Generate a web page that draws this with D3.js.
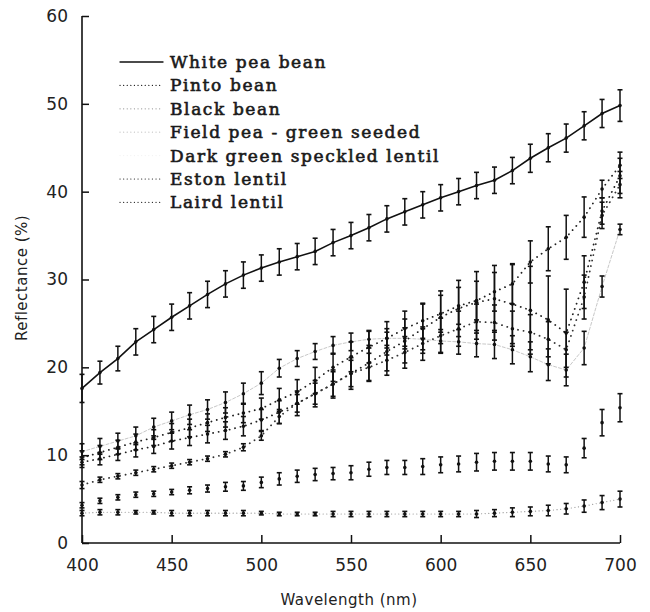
<!DOCTYPE html>
<html>
<head>
<meta charset="utf-8">
<script src="https://cdn.jsdelivr.net/npm/d3@7"></script>
<style>
  body { margin: 0; background: #fff; }
  svg { display: block; }
  .tick text { font-family: "DejaVu Sans", sans-serif; font-size: 17px; fill: #222; }
  .axis-title { font-family: "DejaVu Sans", sans-serif; font-size: 15px; fill: #222; letter-spacing: 0.5px; }
  .legend text { font-family: "DejaVu Serif", serif; font-size: 17px; fill: #1a1a1a; stroke: #1a1a1a; stroke-width: 0.6px; letter-spacing: 1.6px; }
</style>
</head>
<body>
<svg class="chart" width="650" height="612"></svg>
<script>
// wavelengths, nm
const wavelengths = d3.range(400, 701, 10);

const seriesNames = [
  'White pea bean',
  'Pinto bean',
  'Black bean',
  'Field pea - green seeded',
  'Dark green speckled lentil',
  'Eston lentil',
  'Laird lentil'
];

// reflectance means (%)
const whitePea = [17.6,19.4,21.0,22.9,24.3,25.7,27.0,28.3,29.5,30.5,31.3,32.0,32.6,33.2,34.2,35.0,35.9,36.9,37.7,38.5,39.3,40.0,40.7,41.3,42.4,43.8,45.0,46.1,47.5,48.9,49.8];
const pinto = [9.7,10.3,10.9,11.5,12.0,12.6,13.1,13.7,14.3,14.8,15.3,16.3,17.2,18.5,20.0,21.2,22.3,23.3,24.4,25.3,26.1,27.0,27.6,28.6,29.5,32.0,33.5,34.8,37.1,40.3,43.0];
const blackBean = [3.4,3.5,3.5,3.5,3.5,3.4,3.4,3.4,3.4,3.4,3.4,3.3,3.3,3.3,3.3,3.3,3.3,3.3,3.3,3.3,3.3,3.3,3.3,3.4,3.5,3.6,3.7,3.9,4.2,4.6,5.0];
const fieldPea = [10.4,11.0,11.6,12.2,13.2,13.9,14.6,15.2,16.0,17.0,18.2,19.9,21.0,21.8,22.5,22.9,23.2,23.3,23.3,23.2,23.0,22.9,22.7,22.6,22.0,21.2,20.3,19.7,22.2,29.2,35.7];
const darkGreen = [4.3,4.8,5.2,5.5,5.6,5.8,6.0,6.2,6.4,6.5,6.9,7.3,7.6,7.8,7.9,8.0,8.4,8.6,8.6,8.7,8.9,9.0,9.2,9.3,9.3,9.3,9.0,8.9,10.8,13.7,15.4];
const eston = [9.2,9.6,10.1,10.6,11.0,11.6,12.0,12.4,12.8,13.3,14.0,14.9,15.9,17.0,18.1,19.3,20.5,21.8,23.0,24.4,25.7,26.7,27.4,27.8,27.2,26.5,25.4,23.9,29.7,37.8,41.8];
const laird = [6.6,7.2,7.6,8.0,8.4,8.8,9.2,9.6,10.1,10.9,12.2,14.4,15.9,17.0,18.1,19.3,20.0,20.8,21.7,22.7,23.6,24.4,25.2,25.1,24.4,24.0,23.2,22.0,28.0,37.3,40.8];

// standard deviations (%)
const whitePeaErr = [1.6,1.3,1.4,1.5,1.5,1.5,1.5,1.5,1.5,1.5,1.5,1.5,1.5,1.5,1.5,1.5,1.5,1.5,1.5,1.5,1.5,1.5,1.5,1.5,1.5,1.6,1.6,1.6,1.6,1.6,1.8];
const pintoErr = [0.8,0.8,0.8,0.9,0.9,1.0,1.0,1.0,1.1,1.1,1.2,1.3,1.4,1.5,1.6,1.7,1.8,1.9,2.0,2.0,2.1,2.1,2.2,2.2,2.3,2.4,2.5,2.5,2.3,1.0,1.5];
const blackBeanErr = [0.3,0.3,0.3,0.2,0.2,0.3,0.3,0.3,0.3,0.3,0.2,0.2,0.2,0.2,0.3,0.3,0.3,0.3,0.3,0.3,0.3,0.3,0.4,0.4,0.5,0.5,0.6,0.6,0.7,0.8,0.9];
const fieldPeaErr = [0.9,0.9,0.9,1.0,1.0,1.0,1.1,1.1,1.2,1.2,1.3,1.0,0.9,0.9,1.0,1.0,1.0,1.1,1.2,1.2,1.3,1.4,1.5,1.6,1.6,1.7,1.8,1.8,1.9,1.2,0.6];
const darkGreenErr = [0.3,0.3,0.3,0.3,0.3,0.3,0.4,0.4,0.5,0.5,0.6,0.7,0.7,0.7,0.7,0.8,0.8,0.8,0.8,0.9,0.9,0.9,1.0,1.0,1.0,1.0,0.9,0.9,1.1,1.5,1.6];
const estonErr = [0.6,0.7,0.7,0.8,0.8,0.9,0.9,1.0,1.0,1.1,1.2,1.3,1.4,1.5,1.6,1.8,2.0,2.2,2.5,2.8,3.0,3.2,3.5,3.8,4.5,5.0,5.0,5.0,3.0,1.5,2.0];
const lairdErr = [0.4,0.3,0.3,0.3,0.3,0.3,0.3,0.3,0.3,0.4,0.5,0.8,1.0,1.2,1.4,1.5,1.6,1.7,1.8,1.9,2.0,2.0,2.0,2.0,2.0,2.0,2.0,2.0,2.5,1.5,1.5];

const yTicks = [0, 10, 20, 30, 40, 50, 60];
const xTicks = [400, 450, 500, 550, 600, 650, 700];

const svg = d3.select('.chart');

const margin = { left: 82, top: 16, right: 30, bottom: 69 };
const width = +svg.attr('width') - margin.left - margin.right;
const height = +svg.attr('height') - margin.top - margin.bottom;

// line looks per series, in legend order
const styles = [
  { stroke: '#111', width: 1.6, dash: null },
  { stroke: '#222', width: 1.8, dash: '0.1,5.5' },
  { stroke: '#999', width: 1.2, dash: '0.1,3.5' },
  { stroke: '#c8c8c8', width: 1, dash: '3,2' },
  { stroke: 'none', width: 0, dash: null },
  { stroke: '#222', width: 1.8, dash: '0.1,5.5' },
  { stroke: '#333', width: 1.8, dash: '0.1,5.5' }
];

const means = [whitePea, pinto, blackBean, fieldPea, darkGreen, eston, laird];
const errs = [whitePeaErr, pintoErr, blackBeanErr, fieldPeaErr, darkGreenErr, estonErr, lairdErr];

const series = seriesNames.map((name, i) => ({
  name,
  style: styles[i],
  values: wavelengths.map((w, j) => ({ w, v: means[i][j], e: errs[i][j] }))
}));

const x = d3.scaleLinear().domain([400, 700]).range([0, width]);
const y = d3.scaleLinear().domain([0, 60]).range([height, 0]);

const g = svg.append('g')
  .attr('transform', `translate(${margin.left},${margin.top})`);

// axes, ticks pointing inward
const yAxisG = g.append('g')
  .call(d3.axisLeft(y).tickValues(yTicks).tickSize(-7).tickPadding(14));
const xAxisG = g.append('g')
  .attr('transform', `translate(0,${height})`)
  .call(d3.axisBottom(x).tickValues(xTicks).tickSize(-8).tickPadding(16));

[yAxisG, xAxisG].forEach(a => {
  a.select('.domain').remove();
  a.selectAll('.tick line').attr('stroke', '#111').attr('stroke-width', 1.5);
});
g.append('line')
  .attr('x1', 0).attr('x2', 0).attr('y1', 0).attr('y2', height)
  .attr('stroke', '#111').attr('stroke-width', 1.6);
g.append('line')
  .attr('x1', 0).attr('x2', width).attr('y1', height).attr('y2', height)
  .attr('stroke', '#111').attr('stroke-width', 1.6);

g.append('text')
  .attr('class', 'axis-title')
  .attr('transform', 'rotate(-90)')
  .attr('x', -(278 - margin.top))
  .attr('y', 22 - margin.left + 5)
  .attr('text-anchor', 'middle')
  .text('Reflectance (%)');

g.append('text')
  .attr('class', 'axis-title')
  .attr('x', x(550) - 2)
  .attr('y', height + 62)
  .attr('text-anchor', 'middle')
  .text('Wavelength (nm)');

// series lines
const line = d3.line().x(d => x(d.w)).y(d => y(d.v));

g.selectAll('.series-line')
  .data(series)
  .enter()
  .append('path')
  .attr('class', 'series-line')
  .attr('d', d => line(d.values))
  .attr('fill', 'none')
  .attr('stroke', d => d.style.stroke)
  .attr('stroke-width', d => d.style.width)
  .attr('stroke-dasharray', d => d.style.dash)
  .attr('stroke-linecap', 'round');

// error bars
const bars = g.selectAll('.bars')
  .data(series)
  .enter()
  .append('g')
  .attr('class', 'bars')
  .selectAll('g')
  .data(d => d.values)
  .enter()
  .append('g');

bars.append('line')
  .attr('x1', d => x(d.w)).attr('x2', d => x(d.w))
  .attr('y1', d => y(d.v - d.e)).attr('y2', d => y(d.v + d.e))
  .attr('stroke', '#111').attr('stroke-width', 1.5);
bars.append('line')
  .attr('x1', d => x(d.w) - 2.5).attr('x2', d => x(d.w) + 2.5)
  .attr('y1', d => y(d.v + d.e)).attr('y2', d => y(d.v + d.e))
  .attr('stroke', '#111').attr('stroke-width', 1.6);
bars.append('line')
  .attr('x1', d => x(d.w) - 2.5).attr('x2', d => x(d.w) + 2.5)
  .attr('y1', d => y(d.v - d.e)).attr('y2', d => y(d.v - d.e))
  .attr('stroke', '#111').attr('stroke-width', 1.6);
bars.append('circle')
  .attr('cx', d => x(d.w))
  .attr('cy', d => y(d.v))
  .attr('r', 1.8)
  .attr('fill', '#111');

// legend
const legend = svg.append('g')
  .attr('class', 'legend')
  .attr('transform', 'translate(120, 62)');

const legendItems = legend.selectAll('g')
  .data(series)
  .enter()
  .append('g')
  .attr('transform', (d, i) => `translate(0, ${i * 23.4})`);

legendItems.append('line')
  .attr('x1', 0).attr('x2', 43)
  .attr('y1', 0).attr('y2', 0)
  .attr('stroke', d => d.style.stroke === 'none' ? '#f2f2f2' : d.style.stroke)
  .attr('stroke-width', (d, i) => i === 0 ? 1.4 : 1.2)
  .attr('stroke-dasharray', (d, i) => i === 0 ? null : '0.1,3.5')
  .attr('stroke-linecap', 'round');

legendItems.append('text')
  .attr('x', 50)
  .attr('y', 6)
  .text(d => d.name);
</script>
</body>
</html>
